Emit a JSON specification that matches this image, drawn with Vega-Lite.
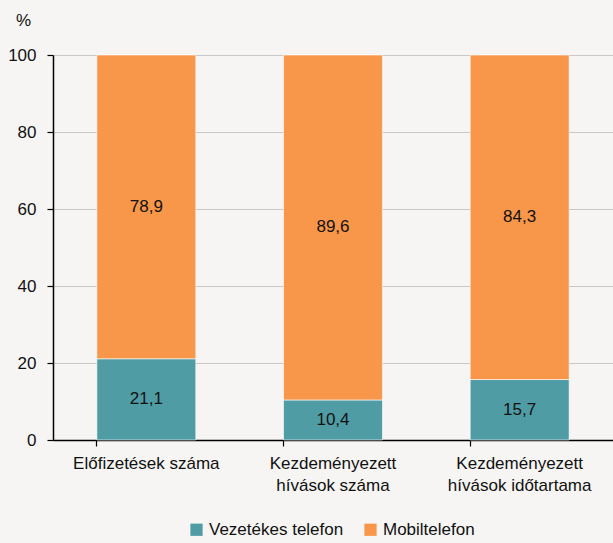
{
  "$schema": "https://vega.github.io/schema/vega-lite/v6.json",
  "width": 560,
  "height": 385,
  "autosize": "none",
  "padding": {"left": 53, "top": 55, "right": 0, "bottom": 103},
  "background": "#F6F5F3",
  "config": {
    "font": "Liberation Sans",
    "view": {"stroke": null},
    "locale": {"number": {"decimal": ",", "thousands": " ", "grouping": [3], "currency": ["", ""]}}
  },
  "data": {
    "values": [
      {"cat": "Előfizetések száma", "ord": 1, "series": "Vezetékes telefon", "so": 1, "value": 21.1},
      {"cat": "Előfizetések száma", "ord": 1, "series": "Mobiltelefon", "so": 2, "value": 78.9},
      {"cat": "Kezdeményezett|hívások száma", "ord": 2, "series": "Vezetékes telefon", "so": 1, "value": 10.4},
      {"cat": "Kezdeményezett|hívások száma", "ord": 2, "series": "Mobiltelefon", "so": 2, "value": 89.6},
      {"cat": "Kezdeményezett|hívások időtartama", "ord": 3, "series": "Vezetékes telefon", "so": 1, "value": 15.7},
      {"cat": "Kezdeményezett|hívások időtartama", "ord": 3, "series": "Mobiltelefon", "so": 2, "value": 84.3}
    ]
  },
  "encoding": {
    "x": {
      "field": "cat", "type": "nominal",
      "sort": {"field": "ord"},
      "scale": {"paddingInner": 0.47, "paddingOuter": 0.235},
      "axis": {
        "title": null, "labelAngle": 0, "bandPosition": 0,
        "labelExpr": "split(datum.label, '|')",
        "labelFontSize": 17, "labelColor": "#111", "labelPadding": 9, "labelLineHeight": 22,
        "domainColor": "#000", "domainWidth": 1.5, "tickColor": "#000", "tickSize": 6, "tickWidth": 1.2,
        "labelBound": false, "labelOverlap": false
      }
    },
    "y": {
      "field": "value", "type": "quantitative", "stack": "zero",
      "scale": {"domain": [0, 100], "nice": false},
      "axis": {
        "title": "%", "titleAngle": 0, "titleX": -30, "titleY": -26, "titleFontSize": 17, "titleFontWeight": "normal", "titleColor": "#111",
        "values": [0, 20, 40, 60, 80, 100], "format": "d",
        "labelFontSize": 17, "labelColor": "#111", "labelPadding": 11,
        "domainColor": "#000", "domainWidth": 1.5, "tickColor": "#000", "tickSize": 6, "tickWidth": 1.2,
        "gridColor": "#C8C8C8", "gridWidth": 1.2
      }
    },
    "order": {"field": "so"}
  },
  "layer": [
    {
      "mark": {"type": "bar", "stroke": "#FFFFFF", "strokeWidth": 0.6},
      "encoding": {
        "color": {
          "field": "series", "type": "nominal",
          "scale": {"domain": ["Vezetékes telefon", "Mobiltelefon"], "range": ["#4F9CA4", "#F8964A"]},
          "legend": {
            "title": null, "orient": "none", "direction": "horizontal",
            "legendX": 135, "legendY": 466,
            "symbolType": "square", "symbolSize": 150, "symbolStrokeWidth": 0,
            "labelFontSize": 17, "labelColor": "#111", "columnPadding": 18, "labelOffset": 4
          }
        }
      }
    },
    {
      "mark": {"type": "text", "fontSize": 17, "color": "#111"},
      "encoding": {
        "y": {"field": "value", "type": "quantitative", "stack": "zero", "bandPosition": 0.5},
        "text": {"field": "value", "type": "quantitative", "format": ".1f"}
      }
    }
  ]
}
